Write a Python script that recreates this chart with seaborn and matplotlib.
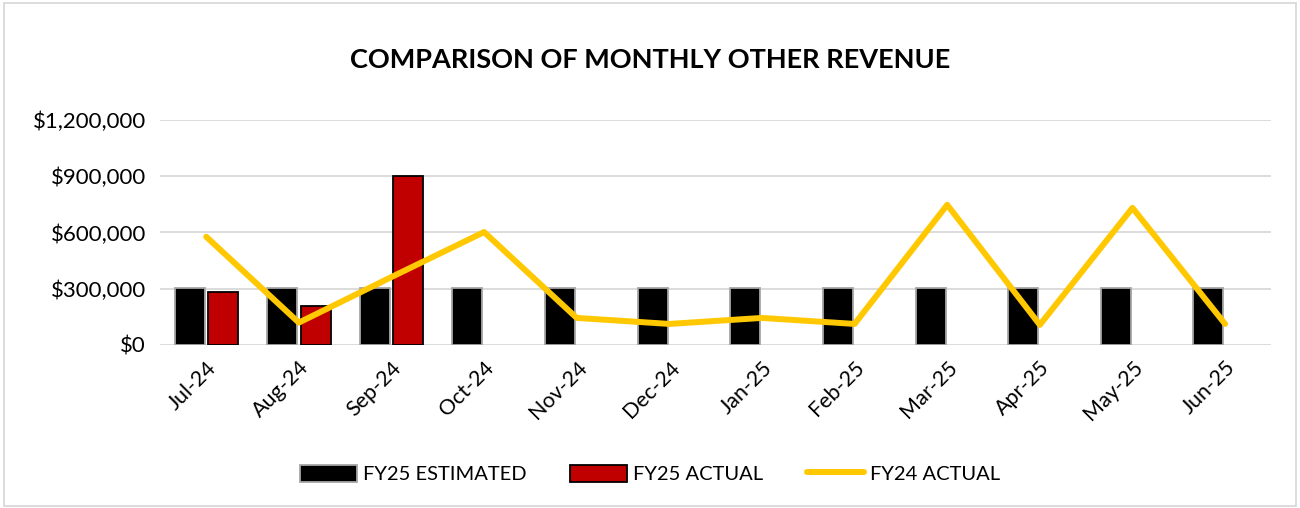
import matplotlib
matplotlib.use('Agg')
import matplotlib.pyplot as plt
import matplotlib.ticker as mticker
from matplotlib.patches import Patch, Rectangle
from matplotlib.lines import Line2D
import seaborn as sns
import pandas as pd
import numpy as np

#=====DATA=====
months = ["Jul-24", "Aug-24", "Sep-24", "Oct-24", "Nov-24", "Dec-24",
          "Jan-25", "Feb-25", "Mar-25", "Apr-25", "May-25", "Jun-25"]
fy25_estimated = [305000, 305000, 305000, 305000, 305000, 305000,
                  305000, 305000, 305000, 305000, 305000, 305000]
fy25_actual = [281000, 208000, 902000, None, None, None,
               None, None, None, None, None, None]
fy24_actual = [577000, 119000, 362000, 602000, 144000, 112000,
               144000, 112000, 747000, 107000, 731000, 112000]

bars = pd.DataFrame({
    "Month": months * 2,
    "Value": fy25_estimated + fy25_actual,
    "Series": ["FY25 ESTIMATED"] * 12 + ["FY25 ACTUAL"] * 12,
})
line = pd.DataFrame({"pos": np.arange(len(months)), "Value": fy24_actual})

#=====STYLE=====
sns.set_theme(style="white")
plt.rcParams['font.family'] = ['Lato', 'DejaVu Sans']
plt.rcParams['text.color'] = '#000000'

fig = plt.figure(figsize=(13, 5.08), dpi=100)
ax = fig.add_axes([0.123, 0.321, 0.855, 0.443])

sns.barplot(data=bars, x="Month", y="Value", hue="Series", order=months,
            hue_order=["FY25 ESTIMATED", "FY25 ACTUAL"],
            palette={"FY25 ESTIMATED": "#000000", "FY25 ACTUAL": "#C00000"},
            saturation=1, width=0.72, gap=0.1, errorbar=None, legend=False,
            ax=ax, zorder=2)
for i, p in enumerate(ax.patches):
    if i < 12:
        p.set_edgecolor("#A6A6A6")
    else:
        p.set_edgecolor("#000000")
    p.set_linewidth(1.3)

sns.lineplot(data=line, x="pos", y="Value", color="#FFC800", linewidth=4.3,
             ax=ax, zorder=3, solid_capstyle="round")

#=====AXES=====
ax.set_ylim(0, 1200000)
ax.set_xlim(-0.5, 11.5)
ax.set_yticks([0, 300000, 600000, 900000, 1200000])
ax.yaxis.set_major_formatter(mticker.FuncFormatter(lambda v, _: f"${v:,.0f}"))
ax.yaxis.grid(True, color="#D9D9D9", linewidth=1.3, zorder=0)
ax.set_axisbelow(True)
for s in ax.spines.values():
    s.set_visible(False)
ax.set_xlabel("")
ax.set_ylabel("")
ax.tick_params(axis="y", length=0, labelsize=16, colors="#000000", pad=10)
ax.tick_params(axis="x", length=0, labelsize=15.5, colors="#000000", pad=9)
ax.set_xticks(range(len(months)))
ax.set_xticklabels(months, rotation=45, ha="right", rotation_mode="anchor")

fig.suptitle("COMPARISON OF MONTHLY OTHER REVENUE", y=0.905, fontsize=19.5,
             fontweight="bold", x=0.5, color="#000000")

#=====LEGEND=====
handles = [Patch(facecolor="#000000", edgecolor="#A6A6A6", linewidth=1.3),
           Patch(facecolor="#C00000", edgecolor="#000000", linewidth=1.3),
           Line2D([0], [0], color="#FFC800", linewidth=4.3, solid_capstyle="round")]
fig.legend(handles, ["FY25 ESTIMATED", "FY25 ACTUAL", "FY24 ACTUAL"],
           loc="center", bbox_to_anchor=(0.5, 0.067), ncol=3, frameon=False,
           fontsize=14.5, handlelength=2.8, handleheight=0.9, columnspacing=2.2,
           handletextpad=0.3)

fig.patches.append(Rectangle((0.003, 0.004), 0.994, 0.99, transform=fig.transFigure,
                             fill=False, edgecolor="#D9D9D9", linewidth=1.3))

fig.savefig("out.png", dpi=100, facecolor="white")
